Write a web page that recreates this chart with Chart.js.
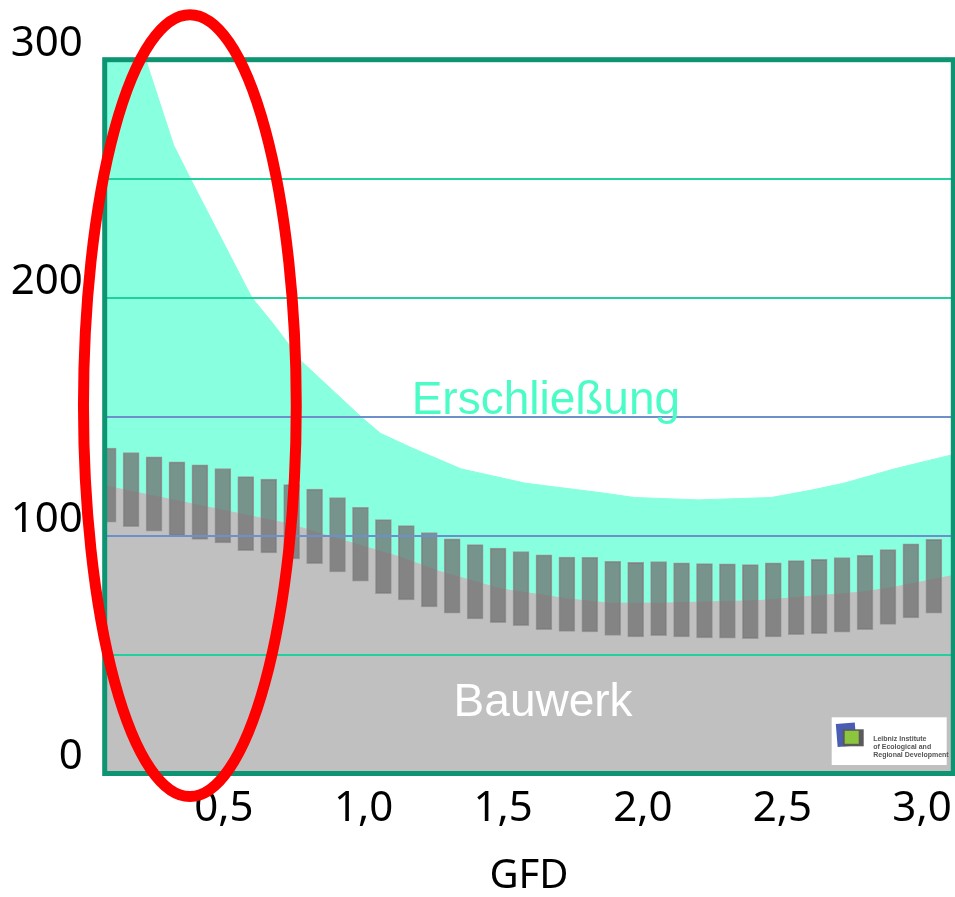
<!DOCTYPE html>
<html>
<head>
<meta charset="utf-8">
<script src="https://cdn.jsdelivr.net/npm/chart.js@4.4.1/dist/chart.umd.min.js"></script>
<style>
  html, body { margin: 0; padding: 0; background: #fff; }
</style>
</head>
<body>
<canvas id="gfd" width="955" height="897"></canvas>
<script>
// Erschließung: upper edge of the teal area (GFD -> value)
const erschliessungGfd  = [0.07, 0.22, 0.32, 0.38, 0.60, 0.67, 0.78, 0.99, 1.06, 1.17, 1.35, 1.58, 1.85, 1.97, 2.20, 2.46, 2.60, 2.72, 2.90, 3.11];
const erschliessungWert = [345, 300, 264, 250, 200, 190, 173, 150, 143, 137, 128, 122, 118, 116, 115, 116, 119, 122, 128, 134];

// Bauwerk: upper edge of the grey area
const bauwerkGfd  = [0.07, 0.73, 0.87, 1.13, 1.27, 1.49, 1.73, 1.88, 2.06, 2.20, 2.42, 2.78, 2.90, 3.11];
const bauwerkWert = [121, 105, 100, 91, 85, 77.6, 73.4, 71.6, 71.6, 72, 72.7, 76.2, 78.3, 83.2];

// dark floating bars (range low..high), 37 steps across the GFD axis
const spanneLow  = [105.6, 103.7, 101.8, 99.9, 98.4, 96.9, 93.7, 92.7, 90.2, 88.2, 84.7, 80.8, 75.6, 73.0, 70.0, 67.4, 65.0, 63.4, 62.1, 60.5, 59.7, 59.5, 58.0, 57.4, 57.9, 57.4, 57.0, 56.9, 56.7, 57.4, 58.3, 58.8, 59.4, 60.5, 62.7, 65.4, 67.4];
const spanneHigh = [136.8, 134.9, 133.1, 131.0, 129.7, 128.2, 124.8, 123.7, 121.4, 119.5, 116.0, 111.9, 106.7, 104.2, 101.3, 98.6, 96.2, 94.7, 93.3, 91.9, 91.0, 90.9, 89.2, 88.7, 89.1, 88.5, 88.2, 88.1, 87.8, 88.5, 89.5, 90.0, 90.8, 91.7, 94.1, 96.5, 98.4];

const xTickValues = [0.5, 1.0, 1.5, 2.0, 2.5, 3.0];
const yTickLabels = [0, 100, 200, 300];

const FONT = '"Noto Sans", "Open Sans", sans-serif';
const TEAL = 'rgb(136,255,222)';
const GREY = '#c0c0c0';
const FRAME = '#0d9472';

const barLabels = spanneLow.map((v, i) => String(i + 1));

const overlay = {
  id: 'overlay',
  afterDraw(chart) {
    const { ctx, chartArea: a, scales } = chart;
    const x = scales.x, y = scales.y;
    ctx.save();

    // frame
    ctx.strokeStyle = FRAME;
    ctx.lineWidth = 5;
    ctx.strokeRect(a.left, a.top, a.right - a.left, a.bottom - a.top);

    // labels inside the plot
    ctx.textAlign = 'center';
    ctx.textBaseline = 'alphabetic';
    ctx.font = '46px "Liberation Sans", Arial, sans-serif';
    ctx.fillStyle = '#4cfcc6';
    ctx.fillText('Erschließung', x.getPixelForValue(1.653), y.getPixelForValue(151.1));
    ctx.fillStyle = '#ffffff';
    ctx.fillText('Bauwerk', x.getPixelForValue(1.643), y.getPixelForValue(24));

    // institute logo, bottom right
    const lx = a.right - 121.6, ly = a.bottom - 56.2;
    ctx.fillStyle = '#ffffff';
    ctx.fillRect(lx, ly, 115, 47.7);
    ctx.save();
    ctx.translate(lx + 14.5, ly + 17.5);
    ctx.rotate(-0.08);
    ctx.fillStyle = '#4a5cb3';
    ctx.fillRect(-9.5, -11.5, 19, 23);
    ctx.restore();
    ctx.fillStyle = '#5a5a5a';
    ctx.fillRect(lx + 11, ly + 12, 21, 17);
    ctx.fillStyle = '#8cc63e';
    ctx.fillRect(lx + 13, ly + 13.5, 14, 13);
    ctx.fillStyle = '#555';
    ctx.textAlign = 'left';
    ctx.textBaseline = 'middle';
    ctx.font = 'bold 7px "Liberation Sans", Arial, sans-serif';
    ctx.fillText('Leibniz Institute', lx + 41.5, ly + 21.5);
    ctx.fillText('of Ecological and', lx + 41.5, ly + 29.5);
    ctx.fillText('Regional Development', lx + 41.5, ly + 37.5);

    // red ellipse
    const cx = x.getPixelForValue(0.378), cy = y.getPixelForValue(154.6);
    const rx = x.getPixelForValue(0.378 + 0.381) - cx;
    const ry = cy - y.getPixelForValue(154.6 + 164.3);
    ctx.strokeStyle = '#ff0000';
    ctx.lineWidth = 11;
    ctx.beginPath();
    ctx.ellipse(cx, cy, rx, ry, 0, 0, Math.PI * 2);
    ctx.stroke();

    ctx.restore();
  }
};

new Chart(document.getElementById('gfd'), {
  type: 'line',
  data: {
    labels: barLabels,
    datasets: [
      {
        type: 'bar',
        label: 'Spanne',
        xAxisID: 'xb',
        yAxisID: 'y',
        data: spanneLow.map((v, i) => [v, spanneHigh[i]]),
        backgroundColor: 'rgba(112,112,112,0.75)',
        borderColor: 'rgba(150,150,150,0.9)',
        borderWidth: 1,
        borderSkipped: false,
        barThickness: 16,
        order: 0
      },
      {
        label: 'Bauwerk',
        xAxisID: 'x',
        yAxisID: 'y',
        data: bauwerkGfd.map((g, i) => ({ x: g, y: bauwerkWert[i] })),
        backgroundColor: GREY,
        borderColor: GREY,
        borderWidth: 1,
        pointRadius: 0,
        tension: 0,
        fill: 'origin',
        order: 1
      },
      {
        label: 'Erschließung',
        xAxisID: 'x',
        yAxisID: 'y',
        data: erschliessungGfd.map((g, i) => ({ x: g, y: erschliessungWert[i] })),
        backgroundColor: TEAL,
        borderColor: TEAL,
        borderWidth: 1,
        pointRadius: 0,
        tension: 0,
        fill: 'origin',
        order: 2
      }
    ]
  },
  options: {
    responsive: false,
    animation: false,
    layout: { padding: { left: 0, right: 1.7, top: 59.7, bottom: 0 } },
    plugins: { legend: { display: false }, tooltip: { enabled: false } },
    scales: {
      x: {
        type: 'linear',
        position: 'bottom',
        offset: false,
        min: 0.073,
        max: 3.112,
        afterBuildTicks: s => { s.ticks = xTickValues.map(v => ({ value: v })); },
        afterFit: s => { s.height = 123.5; s.paddingLeft = 0; s.paddingRight = 0; },
        grid: { display: false, drawTicks: false, offset: false },
        border: { display: false },
        ticks: {
          padding: 10,
          color: '#000',
          font: { family: FONT, size: 42 },
          maxRotation: 0,
          autoSkip: false,
          callback: v => v.toFixed(1).replace('.', ',')
        },
        title: {
          display: true,
          text: 'GFD',
          color: '#000',
          font: { family: FONT, size: 40, lineHeight: 1 },
          padding: 0
        }
      },
      xb: {
        type: 'category',
        display: false,
        offset: true
      },
      y: {
        min: 0,
        max: 300,
        afterFit: s => { s.width = 104.7; s.paddingTop = 0; s.paddingBottom = 0; },
        grid: {
          z: 1,
          drawTicks: false,
          lineWidth: 2,
          color: c => (c.tick && (c.tick.value === 100 || c.tick.value === 150)) ? '#6d8fcb' : '#22d09e'
        },
        border: { display: false },
        ticks: {
          stepSize: 50,
          padding: 22,
          labelOffset: -16,
          color: '#000',
          font: { family: FONT, size: 42 },
          callback: v => yTickLabels.includes(v) ? String(v) : ''
        }
      }
    }
  },
  plugins: [overlay]
});
</script>
</body>
</html>
